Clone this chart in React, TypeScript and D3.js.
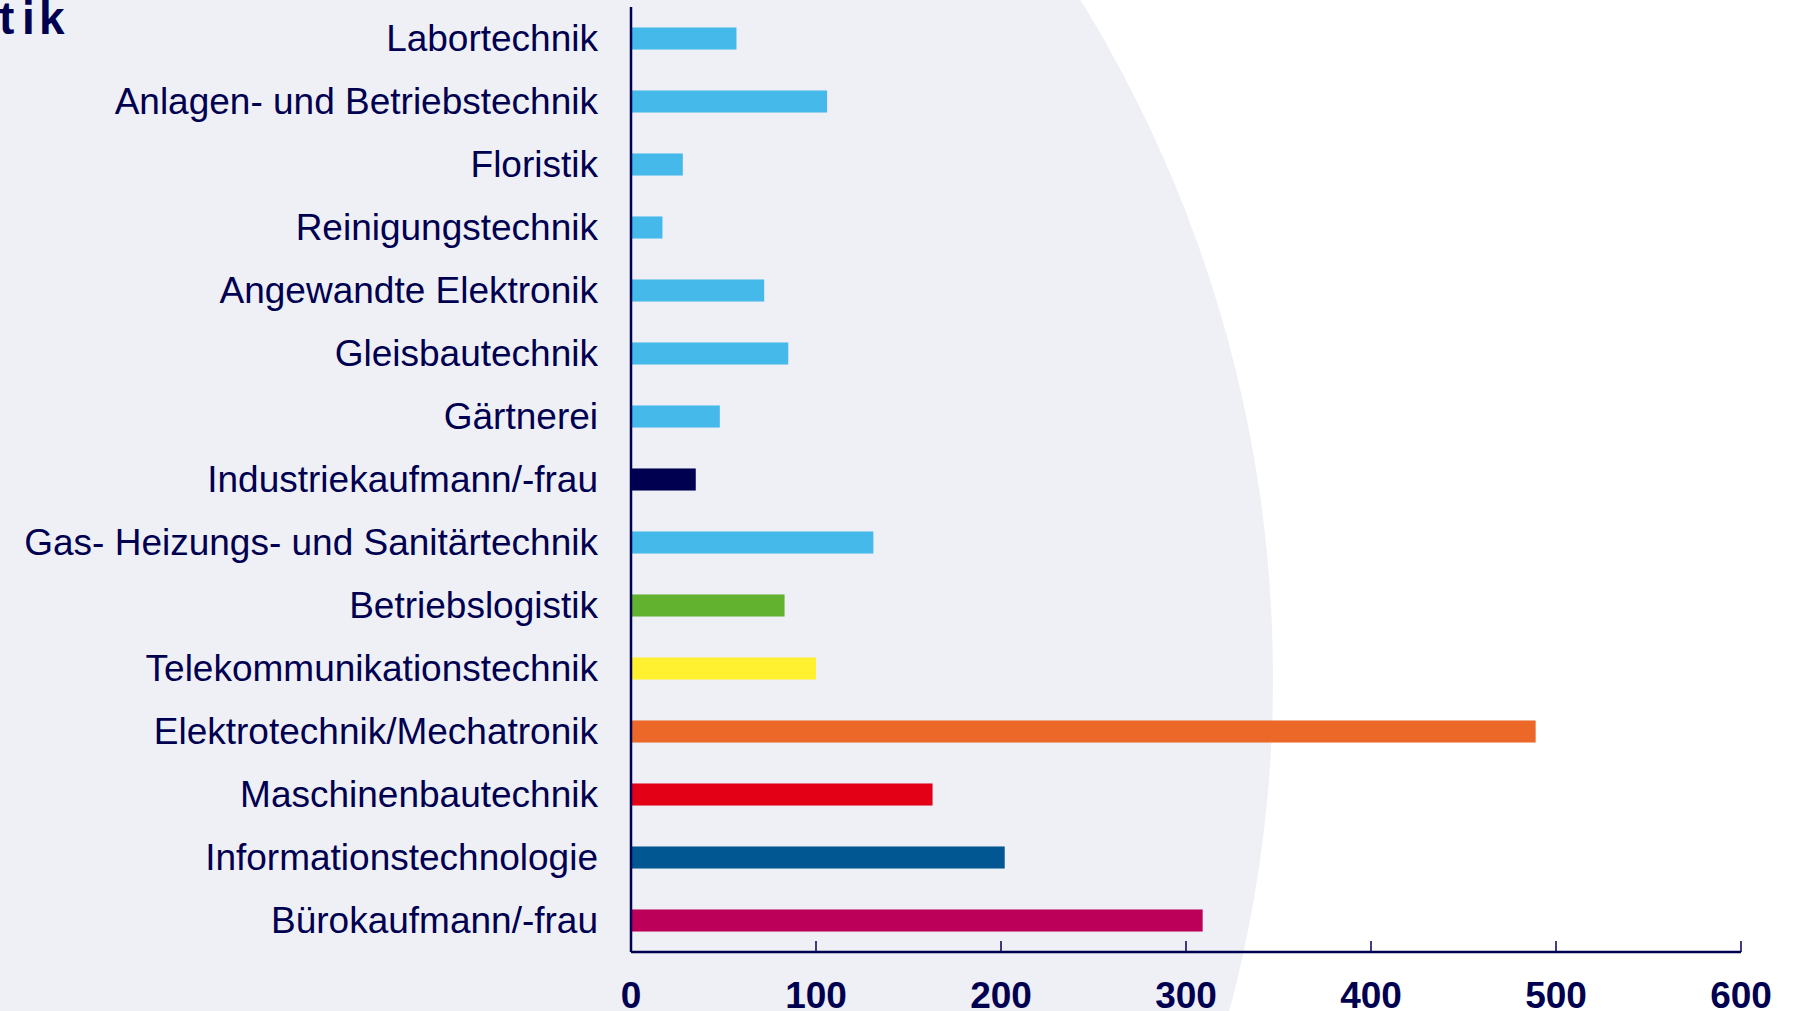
import React from 'react';
import * as d3 from 'd3';

const categories = [
  'Labortechnik',
  'Anlagen- und Betriebstechnik',
  'Floristik',
  'Reinigungstechnik',
  'Angewandte Elektronik',
  'Gleisbautechnik',
  'Gärtnerei',
  'Industriekaufmann/-frau',
  'Gas- Heizungs- und Sanitärtechnik',
  'Betriebslogistik',
  'Telekommunikationstechnik',
  'Elektrotechnik/Mechatronik',
  'Maschinenbautechnik',
  'Informationstechnologie',
  'Bürokaufmann/-frau',
];
const values = [57, 106, 28, 17, 72, 85, 48, 35, 131, 83, 100, 489, 163, 202, 309];
const barColors = [
  '#45b9ea', '#45b9ea', '#45b9ea', '#45b9ea', '#45b9ea', '#45b9ea', '#45b9ea',
  '#000050', '#45b9ea', '#62b22f', '#fff030', '#eb6828', '#e30016', '#005791', '#bc0059',
];
const tickValues = [0, 100, 200, 300, 400, 500, 600];

const W = 1803;
const H = 1011;
const navy = '#000050';
const font = '"Liberation Sans", Arial, sans-serif';

export default function App() {
  const x = d3.scaleLinear().domain([0, 600]).range([631, 1741]);
  const y = d3
    .scaleBand()
    .domain(categories)
    .range([7, 952])
    .paddingInner(0.65)
    .paddingOuter(0.325);

  const axisY = 952;

  return (
    <svg
      width={W}
      height={H}
      style={{ position: 'absolute', left: 0, top: 0, background: '#fff' }}
    >
      {/* background swoosh */}
      <circle cx={-17} cy={678} r={1290} fill="#efeff6" />

      {/* title, cut off at the page edge */}
      <text
        x="-1 22 39"
        y={34}
        fill={navy}
        fontFamily={font}
        fontWeight="bold"
        fontSize={46}
      >
        tik
      </text>

      {categories.map((c, i) => (
        <g key={c}>
          <rect
            x={x(0)}
            y={y(c)}
            width={x(values[i]) - x(0)}
            height={y.bandwidth()}
            fill={barColors[i]}
          />
          <text
            x={598}
            y={(y(c) as number) + y.bandwidth() / 2}
            dy="0.33em"
            textAnchor="end"
            fill={navy}
            fontFamily={font}
            fontSize={37}
          >
            {c}
          </text>
        </g>
      ))}

      {/* y axis */}
      <line x1={x(0)} x2={x(0)} y1={7} y2={axisY} stroke={navy} strokeWidth={2.5} />
      {/* x axis */}
      <line x1={x(0)} x2={x(600)} y1={axisY} y2={axisY} stroke={navy} strokeWidth={2.5} />
      {tickValues.map(t => (
        <g key={t}>
          <line x1={x(t)} x2={x(t)} y1={axisY} y2={axisY - 11} stroke={navy} strokeWidth={1.5} />
          <text
            x={x(t)}
            y={1008}
            textAnchor="middle"
            fill={navy}
            fontFamily={font}
            fontWeight="bold"
            fontSize={37}
          >
            {t}
          </text>
        </g>
      ))}
    </svg>
  );
}
